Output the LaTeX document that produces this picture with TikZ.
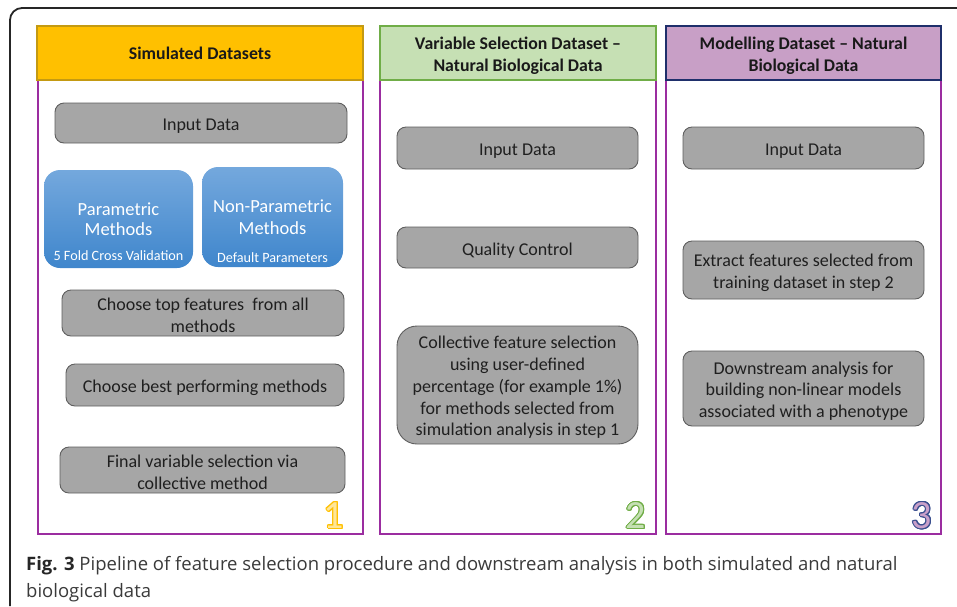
\documentclass[tikz,border=0pt]{standalone}
\usepackage{fontspec}
\setmainfont{Carlito}
\newfontfamily\capfont{Open Sans}
\usepackage[copies]{contour}
\contourlength{1.1pt}

\definecolor{hdrgold}{HTML}{FFC000}
\definecolor{hdrgoldline}{HTML}{C49A12}
\definecolor{hdrgreen}{HTML}{C6E0B4}
\definecolor{hdrgreenline}{HTML}{70AD47}
\definecolor{hdrmauve}{HTML}{C89FC6}
\definecolor{hdrnavy}{HTML}{1F2F6B}
\definecolor{colframe}{HTML}{9B2DA0}
\definecolor{stepfill}{HTML}{A6A6A6}
\definecolor{stepline}{HTML}{5E5E5E}
\definecolor{bluetop}{HTML}{74A8DD}
\definecolor{bluebot}{HTML}{3F86CC}
\definecolor{captext}{HTML}{3A3A3A}
\definecolor{numonefill}{HTML}{FFE699}
\definecolor{numtwofill}{HTML}{C5E0B4}
\definecolor{numthreefill}{HTML}{C9A0C9}
\definecolor{numthreeline}{HTML}{3A4F8F}

% extra height on a first line, to sit multi-line text a little lower
\newcommand{\lowertext}{\rule{0pt}{17.5pt}}

\tikzset{
  hdr/.style={draw, line width=1.6pt, inner sep=0pt, align=center,
    font=\fontsize{17.8}{21.5}\selectfont\bfseries, text=black!90},
  colbody/.style={draw=colframe, line width=1.6pt, inner sep=0pt},
  stepbox/.style={draw=stepline, fill=stepfill, line width=0.9pt,
    rounded corners=9pt, inner sep=0pt, align=center,
    font=\fontsize{18}{21.7}\selectfont, text=black!88,
    execute at begin node={\rule{0pt}{18pt}}},
  methodbox/.style={top color=bluetop, bottom color=bluebot, draw=none,
    rounded corners=16pt, inner sep=0pt, align=center, text=white,
    font=\fontsize{18.5}{22}\selectfont},
  methodnote/.style={inner sep=0pt, text=white, font=\fontsize{14.2}{16}\selectfont},
  stepnum/.style={inner sep=0pt, font=\fontsize{40}{42}\selectfont},
}

\begin{document}
\begin{tikzpicture}[x=1pt,y=-1pt]
\useasboundingbox (0,0) rectangle (957,606);

% outer figure frame (open to the right and below)
\coordinate (frameBL) at (10,606);
\coordinate (frameTL) at (10,8);
\coordinate (frameTR) at (957,8);
\draw[line width=1.8pt, rounded corners=12pt, black!85] (frameBL) -- (frameTL) -- (frameTR);

% column bodies
\node[colbody, minimum width=325pt, minimum height=454pt] (b1) at (200.5,307) {};
\node[colbody, minimum width=276pt, minimum height=454pt] (b2) at (518,307) {};
\node[colbody, minimum width=275pt, minimum height=454pt] (b3) at (803.5,307) {};

% column headers
\node[hdr, fill=hdrgold, draw=hdrgoldline, minimum width=326pt, minimum height=54pt] (h1) at (200,53) {Simulated Datasets};
\node[hdr, fill=hdrgreen, draw=hdrgreenline, minimum width=276pt, minimum height=54pt] (h2) at (518,53) {\rule{0pt}{18pt}Variable Selection Dataset --\\Natural Biological Data};
\node[hdr, fill=hdrmauve, draw=hdrnavy, minimum width=275pt, minimum height=54pt] (h3) at (803.5,53) {\rule{0pt}{18pt}Modelling Dataset -- Natural\\Biological Data};

% column 1: simulated data
\node[stepbox, minimum width=292pt, minimum height=40pt] (in1) at (201,123) {Input Data};
\node[methodbox, minimum width=149pt, minimum height=98pt] (par) at (118.5,219) {\raisebox{-2pt}{Parametric}\\Methods};
\node[methodnote, anchor=base] (parnote) at ([yshift=8pt]par.south) {5 Fold Cross Validation};
\node[methodbox, minimum width=141pt, minimum height=100pt] (npar) at (272.5,217) {Non-Parametric\\Methods};
\node[methodnote, anchor=base] (nparnote) at ([yshift=5pt]npar.south) {Default Parameters};
\node[stepbox, minimum width=282pt, minimum height=46pt] (top) at (203,313) {\lowertext Choose top features~ from all\\methods};
\node[stepbox, minimum width=278pt, minimum height=42pt] (best) at (205,385) {Choose best performing methods};
\node[stepbox, minimum width=285pt, minimum height=46pt] (final) at (202.5,470) {\lowertext Final variable selection via\\collective method};

% column 2: variable selection on natural data
\node[stepbox, minimum width=241pt, minimum height=42pt] (in2) at (517.5,148) {Input Data};
\node[stepbox, minimum width=241pt, minimum height=41pt] (qc) at (517.5,247.5) {Quality Control};
\node[stepbox, rounded corners=20pt, minimum width=241pt, minimum height=118pt] (coll) at (517.5,385)
  {\lowertext Collective feature selection\\using user-defined\\percentage (for example 1\%)\\for methods selected from\\simulation analysis in step 1};

% column 3: modelling on natural data
\node[stepbox, minimum width=241pt, minimum height=42pt] (in3) at (803.5,148) {Input Data};
\node[stepbox, minimum width=241pt, minimum height=58pt] (extr) at (803.5,270) {\lowertext Extract features selected from\\training dataset in step 2};
\node[stepbox, minimum width=241pt, minimum height=75pt] (down) at (803.5,388.5) {\lowertext Downstream analysis for\\building non-linear models\\associated with a phenotype};

% step numbers, outlined
\node[stepnum] (n1) at (334,516) {\color{numonefill}\contour{hdrgold}{1}};
\node[stepnum] (n2) at (636,516) {\color{numtwofill}\contour{hdrgreenline}{2}};
\node[stepnum] (n3) at (922,516) {\color{numthreefill}\contour{numthreeline}{3}};

% caption
\node[anchor=north west, inner sep=0pt, align=left, text=captext,
  font=\capfont\fontsize{18.5}{27}\selectfont] (cap) at (26,556)
  {{\bfseries\color{black!85}Fig. 3} Pipeline of feature selection procedure and downstream analysis in both simulated and natural\\biological data};
\end{tikzpicture}
\end{document}
